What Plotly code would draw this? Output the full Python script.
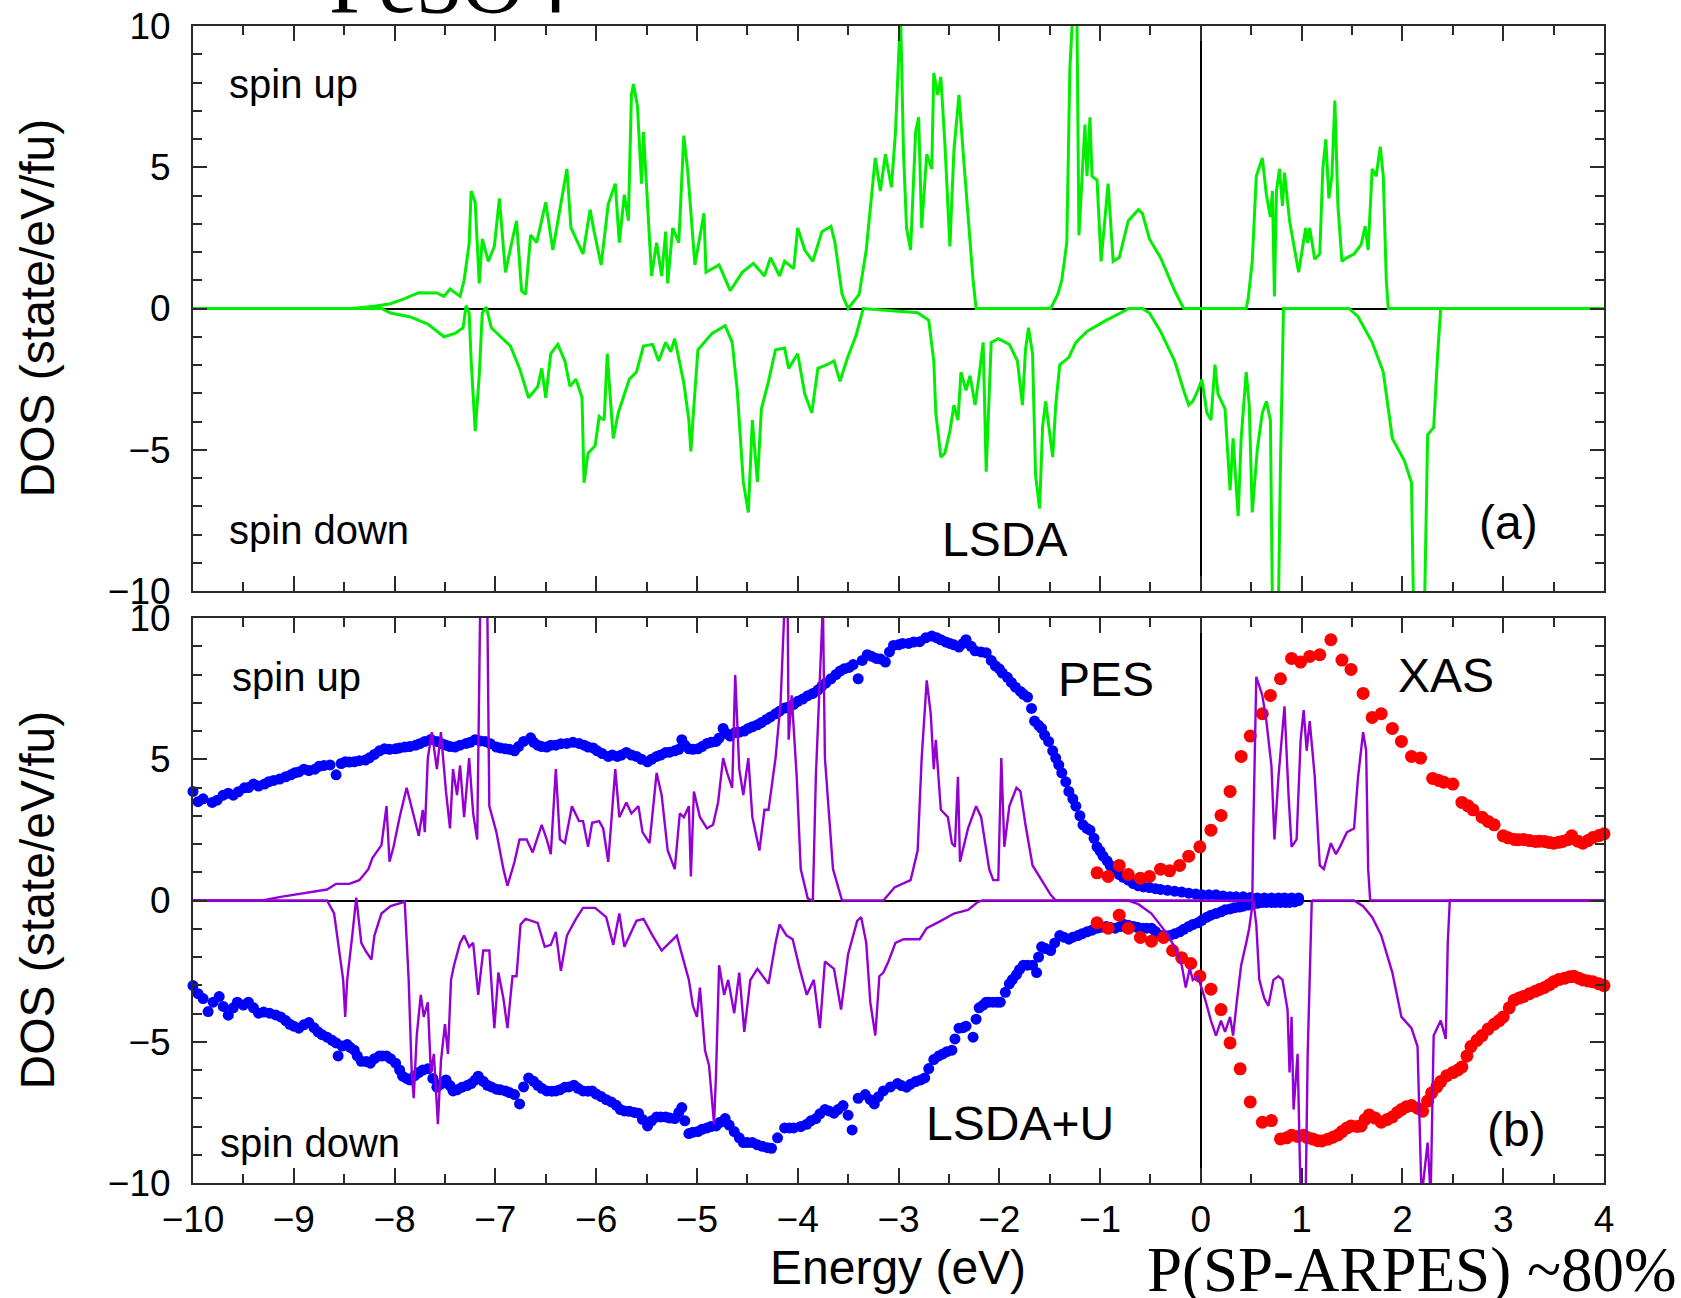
import plotly.graph_objects as go

# ---------------- data (energy eV, DOS state/eV/fu) ----------------
lsda_up = [(-10, 0), (-8.42, 0), (-8.2, 0.08), (-8.04, 0.17), (-7.9, 0.35), (-7.76, 0.56), (-7.58, 0.55),
           (-7.51, 0.43), (-7.45, 0.69), (-7.35, 0.43), (-7.31, 1.0), (-7.26, 2.3), (-7.24, 4.16), (-7.2, 3.76),
           (-7.16, 0.89), (-7.13, 2.46), (-7.07, 1.67), (-7.01, 2.2), (-6.96, 3.9), (-6.9, 1.28), (-6.83, 2.46),
           (-6.79, 3.1), (-6.74, 0.63), (-6.7, 0.5), (-6.65, 2.6), (-6.59, 2.33), (-6.5, 3.76), (-6.43, 2.07),
           (-6.36, 3.5), (-6.29, 4.94), (-6.25, 2.85), (-6.13, 1.93), (-6.06, 3.5), (-6.02, 2.72), (-5.95, 1.54),
           (-5.88, 3.7), (-5.81, 4.42), (-5.77, 2.33), (-5.72, 4.03), (-5.68, 3.11), (-5.65, 7.56), (-5.63, 7.95),
           (-5.59, 7.16), (-5.55, 4.42), (-5.53, 6.25), (-5.49, 3.9), (-5.45, 1.15), (-5.4, 2.33), (-5.35, 1.15),
           (-5.31, 2.72), (-5.29, 0.89), (-5.24, 2.85), (-5.18, 2.33), (-5.13, 6.12), (-5.09, 4.81), (-5.02, 1.54),
           (-4.98, 2.33), (-4.93, 3.37), (-4.91, 1.28), (-4.78, 1.54), (-4.67, 0.63), (-4.55, 1.28), (-4.44, 1.6),
           (-4.33, 1.15), (-4.27, 1.8), (-4.18, 1.15), (-4.13, 1.67), (-4.04, 1.41), (-4.0, 2.85), (-3.93, 2.07),
           (-3.85, 1.67), (-3.76, 2.72), (-3.67, 2.91), (-3.63, 2.33), (-3.56, 0.5), (-3.5, 0.0), (-3.39, 0.5),
           (-3.32, 2.07), (-3.27, 3.9), (-3.23, 5.33), (-3.18, 4.16), (-3.13, 5.46), (-3.07, 4.29), (-3.03, 6.25),
           (-2.98, 10.5), (-2.95, 5.5), (-2.92, 2.85), (-2.88, 2.07), (-2.83, 6.25), (-2.8, 6.77), (-2.77, 2.85),
           (-2.72, 5.46), (-2.67, 4.94), (-2.65, 8.34), (-2.61, 7.56), (-2.58, 8.2), (-2.54, 5.86), (-2.49, 2.2),
           (-2.45, 5.6), (-2.4, 7.56), (-2.36, 5.6), (-2.31, 3.37), (-2.26, 1.0), (-2.23, 0), (-1.49, 0),
           (-1.42, 0.5), (-1.38, 1.0), (-1.33, 2.33), (-1.3, 8.47), (-1.27, 10.5), (-1.23, 10.5), (-1.21, 2.59),
           (-1.18, 4.68), (-1.15, 6.51), (-1.13, 4.68), (-1.1, 6.77), (-1.08, 4.68), (-1.03, 4.55), (-0.99, 1.67),
           (-0.92, 4.42), (-0.87, 1.67), (-0.81, 1.8), (-0.72, 3.11), (-0.62, 3.5), (-0.58, 3.37), (-0.51, 2.46),
           (-0.4, 1.8), (-0.26, 0.63), (-0.17, 0), (0.45, 0), (0.47, 0.37), (0.51, 1.67), (0.55, 4.68), (0.61, 5.33),
           (0.65, 4.03), (0.69, 3.24), (0.71, 4.16), (0.73, 0.43), (0.75, 4.16), (0.78, 4.94), (0.81, 3.63),
           (0.83, 4.81), (0.88, 3.11), (0.97, 1.28), (1.04, 2.85), (1.06, 2.33), (1.08, 2.85), (1.13, 1.74),
           (1.18, 1.93), (1.21, 4.94), (1.24, 5.99), (1.27, 3.9), (1.3, 4.68), (1.33, 7.36), (1.36, 3.63),
           (1.4, 1.67), (1.45, 1.8), (1.52, 1.93), (1.59, 2.26), (1.63, 2.91), (1.66, 2.07), (1.7, 4.94),
           (1.74, 4.68), (1.78, 5.73), (1.81, 4.68), (1.84, 1.0), (1.86, 0), (4.0, 0)]

lsda_down = [(-10, 0), (-8.13, 0), (-8.04, -0.16), (-7.85, -0.29), (-7.67, -0.55), (-7.51, -1.0), (-7.4, -0.88),
             (-7.32, -0.68), (-7.29, 0.1), (-7.26, -0.16), (-7.24, -1.86), (-7.2, -4.34), (-7.16, -2.38),
             (-7.13, -0.16), (-7.09, 0.05), (-7.04, -0.68), (-6.85, -1.33), (-6.76, -2.12), (-6.67, -3.16),
             (-6.58, -2.77), (-6.54, -2.12), (-6.5, -3.16), (-6.45, -1.6), (-6.38, -1.27), (-6.31, -1.86),
             (-6.26, -2.75), (-6.2, -2.5), (-6.14, -3.16), (-6.12, -6.17), (-6.08, -5.12), (-6.01, -4.86),
             (-5.97, -3.82), (-5.92, -3.95), (-5.89, -1.6), (-5.86, -3.14), (-5.83, -4.6), (-5.78, -3.69),
             (-5.67, -2.5), (-5.6, -2.25), (-5.53, -1.33), (-5.44, -1.27), (-5.38, -1.86), (-5.31, -1.2),
             (-5.26, -1.53), (-5.22, -1.07), (-5.13, -2.64), (-5.08, -3.95), (-5.06, -5.06), (-5.04, -3.95),
             (-4.99, -1.46), (-4.85, -0.88), (-4.72, -0.61), (-4.65, -1.2), (-4.6, -2.9), (-4.54, -6.14),
             (-4.49, -7.22), (-4.45, -3.95), (-4.4, -6.14), (-4.36, -3.55), (-4.29, -2.58), (-4.22, -1.46),
             (-4.13, -1.4), (-4.09, -2.12), (-4.0, -1.6), (-3.93, -3.03), (-3.86, -3.69), (-3.8, -2.12),
             (-3.71, -1.99), (-3.64, -1.86), (-3.58, -2.58), (-3.51, -1.79), (-3.42, -0.94), (-3.35, 0.0),
             (-2.99, -0.09), (-2.81, -0.15), (-2.7, -0.42), (-2.65, -1.86), (-2.63, -3.69), (-2.58, -5.26),
             (-2.54, -5.12), (-2.49, -4.34), (-2.45, -3.42), (-2.41, -3.95), (-2.38, -2.25), (-2.33, -2.9),
             (-2.29, -2.38), (-2.24, -3.42), (-2.2, -2.38), (-2.16, -1.2), (-2.13, -5.78), (-2.08, -1.2),
             (-2.01, -1.07), (-1.9, -1.27), (-1.82, -1.86), (-1.77, -3.42), (-1.74, -1.46), (-1.71, -0.68),
             (-1.67, -1.6), (-1.64, -5.9), (-1.6, -7.08), (-1.57, -4.18), (-1.54, -3.29), (-1.5, -4.44),
             (-1.47, -5.26), (-1.44, -3.42), (-1.4, -1.99), (-1.31, -1.73), (-1.24, -1.2), (-1.13, -0.81),
             (-0.94, -0.42), (-0.76, -0.09), (-0.72, 0), (-0.58, 0), (-0.51, -0.16), (-0.4, -0.81), (-0.26, -1.86),
             (-0.17, -2.9), (-0.12, -3.42), (-0.08, -3.29), (-0.03, -2.9), (0.01, -2.51), (0.06, -3.69),
             (0.1, -3.95), (0.14, -1.99), (0.17, -3.03), (0.24, -3.55), (0.29, -6.43), (0.32, -4.6), (0.37, -7.35),
             (0.4, -4.6), (0.45, -2.25), (0.48, -3.42), (0.51, -7.22), (0.56, -4.99), (0.61, -3.69), (0.65, -3.29),
             (0.69, -3.95), (0.71, -10.5), (0.77, -10.5), (0.79, -5.52), (0.82, 0), (1.47, 0), (1.56, -0.29),
             (1.7, -1.2), (1.81, -2.25), (1.9, -4.6), (2.02, -5.39), (2.09, -6.17), (2.11, -10.5), (2.22, -10.5),
             (2.25, -4.47), (2.31, -4.21), (2.35, -1.6), (2.38, 0), (4.0, 0)]

lsdau_up = [(-10, 0), (-9.31, 0), (-9.13, 0.13), (-8.9, 0.26), (-8.67, 0.39), (-8.58, 0.59), (-8.45, 0.59),
            (-8.35, 0.72), (-8.26, 1.11), (-8.22, 1.5), (-8.13, 1.96), (-8.08, 3.34), (-8.05, 1.37), (-8.01, 1.9),
            (-7.95, 2.95), (-7.88, 3.99), (-7.81, 2.95), (-7.76, 2.29), (-7.72, 3.21), (-7.7, 2.42), (-7.67, 5.04),
            (-7.63, 5.96), (-7.58, 4.65), (-7.54, 5.96), (-7.49, 3.86), (-7.45, 2.55), (-7.42, 4.65), (-7.38, 3.73),
            (-7.35, 4.78), (-7.31, 2.95), (-7.26, 5.04), (-7.22, 3.08), (-7.18, 2.16), (-7.16, 7.66), (-7.15, 10.5),
            (-7.08, 10.5), (-7.06, 3.34), (-6.99, 2.42), (-6.92, 1.11), (-6.88, 0.52), (-6.81, 1.37), (-6.76, 2.16),
            (-6.69, 2.16), (-6.63, 1.7), (-6.54, 2.68), (-6.49, 2.16), (-6.45, 1.64), (-6.4, 4.65), (-6.36, 2.16),
            (-6.31, 2.03), (-6.24, 3.34), (-6.17, 2.81), (-6.13, 2.81), (-6.08, 1.9), (-6.04, 2.75), (-5.97, 2.81),
            (-5.93, 2.55), (-5.88, 1.37), (-5.84, 3.21), (-5.81, 4.65), (-5.77, 2.95), (-5.7, 3.47), (-5.65, 3.08),
            (-5.58, 3.34), (-5.54, 2.42), (-5.47, 2.03), (-5.4, 4.52), (-5.35, 3.73), (-5.29, 1.77), (-5.22, 1.11),
            (-5.17, 3.08), (-5.13, 2.95), (-5.08, 3.34), (-5.06, 0.85), (-5.03, 3.86), (-4.97, 2.95), (-4.9, 2.55),
            (-4.84, 2.68), (-4.79, 3.47), (-4.74, 5.04), (-4.7, 4.52), (-4.65, 3.99), (-4.62, 7.98), (-4.58, 4.65),
            (-4.54, 3.73), (-4.49, 5.04), (-4.45, 2.95), (-4.38, 1.77), (-4.33, 3.21), (-4.29, 3.21), (-4.22, 5.04),
            (-4.17, 7.0), (-4.13, 10.5), (-4.1, 10.5), (-4.09, 5.69), (-4.06, 7.26), (-4.01, 4.38), (-3.97, 1.11),
            (-3.9, 0.07), (-3.85, 0), (-3.82, 4.38), (-3.78, 8.31), (-3.75, 10.5), (-3.73, 5.04), (-3.68, 2.42),
            (-3.65, 1.11), (-3.56, 0), (-3.15, 0), (-3.04, 0.46), (-2.95, 0.6), (-2.88, 0.72), (-2.81, 1.77),
            (-2.77, 5.04), (-2.72, 7.79), (-2.68, 6.61), (-2.65, 4.65), (-2.63, 5.69), (-2.58, 3.21), (-2.51, 2.95),
            (-2.47, 2.03), (-2.44, 1.9), (-2.41, 4.38), (-2.39, 1.37), (-2.31, 2.55), (-2.23, 3.34), (-2.18, 2.95),
            (-2.1, 1.11), (-2.06, 0.72), (-2.01, 0.72), (-1.98, 5.04), (-1.95, 1.9), (-1.9, 3.34), (-1.83, 3.99),
            (-1.79, 3.86), (-1.74, 2.68), (-1.67, 1.24), (-1.58, 0.72), (-1.49, 0.2), (-1.44, 0), (0.51, 0),
            (0.52, 2.42), (0.55, 7.92), (0.61, 7.26), (0.65, 6.35), (0.7, 4.78), (0.73, 2.16), (0.77, 4.38),
            (0.81, 6.09), (0.83, 6.87), (0.87, 3.73), (0.9, 1.9), (0.95, 2.16), (0.99, 5.69), (1.02, 6.74),
            (1.05, 5.3), (1.08, 6.35), (1.13, 4.38), (1.18, 1.24), (1.22, 1.11), (1.29, 2.03), (1.34, 1.64),
            (1.38, 1.9), (1.45, 2.42), (1.52, 2.55), (1.56, 4.38), (1.61, 5.96), (1.64, 5.3), (1.66, 1.11),
            (1.68, 0), (4.0, 0)]

lsdau_down = [(-10, 0), (-8.67, 0), (-8.6, -0.46), (-8.56, -1.5), (-8.51, -2.81), (-8.49, -4.12), (-8.47, -2.81),
              (-8.42, -1.24), (-8.38, 0.1), (-8.33, -1.5), (-8.29, -1.77), (-8.23, -2.09), (-8.2, -1.24),
              (-8.13, -0.46), (-8.04, -0.2), (-7.92, -0.07), (-7.9, 0), (-7.86, -2.81), (-7.83, -6.09), (-7.81, -7.0),
              (-7.78, -4.78), (-7.74, -3.34), (-7.71, -4.12), (-7.67, -3.6), (-7.64, -6.09), (-7.61, -5.43),
              (-7.57, -7.92), (-7.54, -5.69), (-7.5, -4.38), (-7.47, -5.43), (-7.44, -2.81), (-7.41, -2.29),
              (-7.35, -1.5), (-7.31, -1.24), (-7.26, -1.64), (-7.22, -1.5), (-7.17, -3.34), (-7.12, -1.77),
              (-7.06, -1.77), (-7.01, -4.52), (-6.97, -2.55), (-6.92, -3.47), (-6.88, -4.52), (-6.83, -2.68),
              (-6.79, -2.68), (-6.75, -0.85), (-6.7, -0.65), (-6.58, -0.79), (-6.51, -1.64), (-6.45, -1.57),
              (-6.4, -1.11), (-6.35, -2.49), (-6.29, -1.24), (-6.2, -0.65), (-6.13, -0.26), (-6.01, -0.26),
              (-5.9, -0.59), (-5.83, -1.57), (-5.77, -0.46), (-5.72, -1.64), (-5.67, -1.24), (-5.6, -0.72),
              (-5.53, -0.65), (-5.44, -1.24), (-5.35, -1.77), (-5.26, -1.44), (-5.2, -1.24), (-5.15, -1.9),
              (-5.08, -2.81), (-5.04, -3.73), (-5.0, -4.12), (-4.97, -3.08), (-4.92, -5.3), (-4.88, -5.83),
              (-4.83, -7.92), (-4.81, -6.09), (-4.78, -2.29), (-4.73, -3.34), (-4.69, -2.81), (-4.63, -3.99),
              (-4.58, -2.55), (-4.53, -4.65), (-4.47, -2.81), (-4.4, -2.42), (-4.29, -2.95), (-4.22, -1.5),
              (-4.18, -0.85), (-4.11, -1.24), (-4.05, -1.37), (-3.98, -2.42), (-3.91, -3.34), (-3.84, -2.81),
              (-3.78, -4.52), (-3.73, -2.16), (-3.64, -2.42), (-3.57, -3.86), (-3.5, -1.9), (-3.41, -0.72),
              (-3.37, -0.59), (-3.32, -1.5), (-3.28, -3.6), (-3.23, -4.78), (-3.19, -2.68), (-3.15, -2.55),
              (-3.1, -2.16), (-3.03, -1.5), (-2.95, -1.37), (-2.79, -1.37), (-2.72, -0.98), (-2.58, -0.72),
              (-2.45, -0.46), (-2.31, -0.33), (-2.22, -0.07), (-2.17, 0), (-0.72, 0), (-0.62, -0.13), (-0.49, -0.46),
              (-0.35, -1.11), (-0.26, -1.64), (-0.19, -2.29), (-0.15, -3.08), (-0.11, -2.4), (-0.08, -2.81),
              (-0.03, -2.68), (0.04, -3.47), (0.1, -4.25), (0.15, -4.78), (0.2, -4.25), (0.24, -4.65), (0.29, -4.12),
              (0.32, -4.78), (0.36, -3.47), (0.4, -2.29), (0.45, -1.5), (0.48, -0.98), (0.51, -0.2), (0.52, 0),
              (0.55, -0.85), (0.58, -2.81), (0.63, -3.47), (0.67, -3.73), (0.72, -2.81), (0.77, -2.68),
              (0.81, -2.81), (0.86, -3.86), (0.88, -6.09), (0.9, -4.12), (0.92, -7.4), (0.96, -5.43), (0.99, -10.5),
              (1.04, -10.5), (1.06, -5.43), (1.1, -0.07), (1.11, 0), (1.52, 0), (1.61, -0.2), (1.7, -0.59),
              (1.79, -1.24), (1.9, -2.55), (1.99, -4.12), (2.09, -4.52), (2.15, -5.17), (2.19, -10.5), (2.25, -8.57),
              (2.28, -10.5), (2.31, -4.78), (2.38, -4.25), (2.43, -4.9), (2.45, -1.5), (2.47, 0), (4.0, 0)]

pes_up = [(-10.0, 3.86), (-9.9, 3.6), (-9.81, 3.47), (-9.7, 3.73), (-9.6, 3.73), (-9.49, 3.99), (-9.4, 4.12),
          (-9.29, 4.12), (-9.2, 4.25), (-9.08, 4.38), (-8.99, 4.52), (-8.9, 4.65), (-8.79, 4.65), (-8.7, 4.78),
          (-8.58, 4.45), (-8.49, 4.91), (-8.4, 4.91), (-8.29, 4.97), (-8.2, 5.17), (-8.1, 5.37), (-7.99, 5.37),
          (-7.9, 5.43), (-7.79, 5.5), (-7.7, 5.63), (-7.58, 5.63), (-7.49, 5.5), (-7.4, 5.43), (-7.29, 5.56),
          (-7.2, 5.69), (-7.1, 5.63), (-6.99, 5.43), (-6.9, 5.37), (-6.81, 5.3), (-6.72, 5.63), (-6.65, 5.76),
          (-6.58, 5.5), (-6.49, 5.43), (-6.4, 5.5), (-6.29, 5.56), (-6.17, 5.56), (-6.08, 5.43), (-5.99, 5.3),
          (-5.88, 5.1), (-5.79, 5.1), (-5.7, 5.24), (-5.6, 5.1), (-5.49, 4.91), (-5.4, 5.1), (-5.31, 5.24),
          (-5.22, 5.3), (-5.15, 5.69), (-5.08, 5.37), (-4.99, 5.37), (-4.9, 5.56), (-4.81, 5.63), (-4.74, 6.09),
          (-4.67, 5.82), (-4.58, 5.96), (-4.49, 6.09), (-4.4, 6.22), (-4.31, 6.41), (-4.22, 6.61), (-4.13, 6.81),
          (-4.04, 6.94), (-3.95, 7.13), (-3.85, 7.33), (-3.76, 7.59), (-3.67, 7.85), (-3.58, 8.12), (-3.49, 8.25),
          (-3.4, 7.85), (-3.31, 8.7), (-3.22, 8.57), (-3.13, 8.44), (-3.05, 9.03), (-2.96, 9.1), (-2.9, 9.1),
          (-2.79, 9.16), (-2.67, 9.36), (-2.58, 9.23), (-2.49, 9.1), (-2.4, 8.97), (-2.33, 9.23), (-2.24, 8.84),
          (-2.13, 8.77), (-2.04, 8.31), (-1.97, 8.05), (-1.88, 7.72), (-1.79, 7.4), (-1.72, 7.2), (-1.65, 6.35),
          (-1.58, 6.09), (-1.51, 5.63), (-1.44, 5.04), (-1.38, 4.52), (-1.31, 3.86), (-1.24, 3.34), (-1.17, 2.68),
          (-1.1, 2.49), (-1.03, 1.9), (-0.97, 1.57), (-0.9, 1.24), (-0.81, 0.92), (-0.72, 0.72), (-0.62, 0.52),
          (-0.51, 0.46), (-0.4, 0.39), (-0.26, 0.33), (-0.12, 0.26), (0.01, 0.2), (0.15, 0.2), (0.29, 0.13),
          (0.42, 0.13), (0.56, 0.09), (0.7, 0.09), (0.83, 0.09), (0.97, 0.09)]

# further PES spin-up points read between the ones above (the measured band is dense)
pes_up_more = [(-9.95, 3.5), (-9.76, 3.55), (-9.65, 3.8), (-9.55, 3.85), (-9.45, 4.0), (-9.35, 4.05), (-9.25, 4.2),
               (-9.14, 4.3), (-9.03, 4.45), (-8.95, 4.55), (-8.85, 4.6), (-8.75, 4.75), (-8.64, 4.8), (-8.53, 4.85),
               (-8.45, 4.9), (-8.35, 4.95), (-8.25, 5.05), (-8.15, 5.3), (-8.05, 5.35), (-7.95, 5.4), (-7.85, 5.45),
               (-7.75, 5.55), (-7.64, 5.7), (-7.53, 5.55), (-7.45, 5.45), (-7.35, 5.5), (-7.25, 5.6), (-7.15, 5.65),
               (-7.05, 5.55), (-6.95, 5.4), (-6.86, 5.35), (-6.77, 5.45), (-6.62, 5.6), (-6.54, 5.45), (-6.45, 5.5),
               (-6.35, 5.55), (-6.23, 5.6), (-6.12, 5.5), (-6.03, 5.4), (-5.94, 5.2), (-5.84, 5.15), (-5.75, 5.15),
               (-5.65, 5.15), (-5.55, 5.0), (-5.45, 5.0), (-5.36, 5.15), (-5.27, 5.25), (-5.18, 5.35), (-5.12, 5.5),
               (-5.04, 5.35), (-4.95, 5.45), (-4.86, 5.6), (-4.78, 5.75), (-4.7, 5.9), (-4.62, 5.95), (-4.53, 6.0),
               (-4.45, 6.15), (-4.36, 6.3), (-4.27, 6.5), (-4.18, 6.7), (-4.09, 6.85), (-4.0, 7.05), (-3.9, 7.25),
               (-3.8, 7.45), (-3.72, 7.7), (-3.62, 8.0), (-3.54, 8.2), (-3.45, 8.35), (-3.36, 8.5), (-3.27, 8.65),
               (-3.18, 8.55), (-3.09, 8.8), (-3.0, 9.05), (-2.85, 9.15), (-2.73, 9.3), (-2.62, 9.3), (-2.53, 9.15),
               (-2.45, 9.05), (-2.36, 9.1), (-2.28, 9.0), (-2.18, 8.8), (-2.08, 8.5), (-2.0, 8.2), (-1.92, 7.9),
               (-1.84, 7.55), (-1.76, 7.3), (-1.68, 6.8), (-1.61, 6.2), (-1.55, 5.85), (-1.47, 5.3), (-1.41, 4.8),
               (-1.34, 4.2), (-1.27, 3.6), (-1.2, 3.0), (-1.13, 2.55), (-1.06, 2.2), (-1.0, 1.75), (-0.93, 1.4),
               (-0.86, 1.08), (-0.77, 0.82), (-0.67, 0.6), (-0.57, 0.48), (-0.45, 0.42), (-0.33, 0.36), (-0.19, 0.3),
               (-0.05, 0.23), (0.08, 0.2), (0.22, 0.16), (0.35, 0.13), (0.49, 0.11), (0.63, 0.09), (0.77, 0.09),
               (0.9, 0.09)]

pes_down = [(-10.0, -3.01), (-9.9, -3.47), (-9.85, -3.93), (-9.74, -3.4), (-9.65, -4.06), (-9.56, -3.6),
            (-9.45, -3.6), (-9.35, -3.99), (-9.24, -3.99), (-9.13, -4.12), (-9.04, -4.38), (-8.95, -4.52),
            (-8.85, -4.32), (-8.76, -4.65), (-8.67, -4.84), (-8.58, -5.04), (-8.56, -5.5), (-8.47, -5.1),
            (-8.4, -5.3), (-8.33, -5.69), (-8.24, -5.76), (-8.15, -5.5), (-8.08, -5.5), (-7.99, -5.76),
            (-7.92, -6.22), (-7.85, -6.35), (-7.76, -6.09), (-7.67, -5.96), (-7.58, -6.61), (-7.49, -6.35),
            (-7.42, -6.74), (-7.33, -6.61), (-7.24, -6.48), (-7.17, -6.22), (-7.08, -6.54), (-6.99, -6.68),
            (-6.9, -6.74), (-6.81, -6.87), (-6.76, -7.2), (-6.67, -6.28), (-6.58, -6.54), (-6.49, -6.74),
            (-6.4, -6.74), (-6.31, -6.61), (-6.22, -6.54), (-6.13, -6.74), (-6.04, -6.74), (-5.95, -6.94),
            (-5.85, -7.13), (-5.76, -7.4), (-5.67, -7.46), (-5.58, -7.53), (-5.49, -7.98), (-5.4, -7.66),
            (-5.31, -7.66), (-5.22, -7.72), (-5.15, -7.33), (-5.08, -8.25), (-4.99, -8.18), (-4.9, -8.05),
            (-4.81, -7.98), (-4.72, -7.72), (-4.63, -8.18), (-4.54, -8.57), (-4.45, -8.57), (-4.35, -8.7),
            (-4.26, -8.77), (-4.13, -8.05), (-4.04, -8.05), (-3.91, -7.92), (-3.82, -7.72), (-3.73, -7.4),
            (-3.64, -7.53), (-3.55, -7.26), (-3.46, -8.12), (-3.33, -6.87), (-3.24, -7.2), (-3.15, -6.74),
            (-3.01, -6.48), (-2.92, -6.61), (-2.83, -6.41), (-2.74, -6.28), (-2.65, -5.63), (-2.56, -5.43),
            (-2.47, -5.3), (-2.4, -4.52), (-2.33, -4.45), (-2.26, -4.84), (-2.2, -3.8), (-2.13, -3.6),
            (-2.06, -3.6), (-1.99, -3.6), (-1.9, -2.95), (-1.83, -2.62), (-1.76, -2.29), (-1.67, -2.29),
            (-1.63, -2.55), (-1.58, -1.64), (-1.49, -1.77), (-1.4, -1.24), (-1.31, -1.37), (-1.22, -1.24),
            (-1.13, -1.11), (-1.03, -0.98), (-0.94, -0.92), (-0.85, -0.98), (-0.76, -0.85), (-0.67, -0.92),
            (-0.58, -0.98), (-0.49, -0.98), (-0.4, -1.24), (-0.31, -1.24), (-0.21, -1.11), (-0.12, -0.92),
            (-0.03, -0.79), (0.06, -0.59), (0.15, -0.46), (0.24, -0.33), (0.33, -0.26), (0.42, -0.2),
            (0.51, -0.13), (0.61, -0.07), (0.7, -0.07), (0.79, -0.07), (0.88, -0.07), (0.97, 0.0)]

pes_down_more = [(-9.95, -3.3), (-9.8, -3.6), (-9.7, -3.75), (-9.6, -3.8), (-9.5, -3.7), (-9.4, -3.8),
                 (-9.3, -3.95), (-9.18, -4.05), (-9.08, -4.25), (-9.0, -4.45), (-8.9, -4.4), (-8.8, -4.5),
                 (-8.72, -4.75), (-8.62, -4.95), (-8.52, -5.15), (-8.44, -5.2), (-8.37, -5.5), (-8.28, -5.7),
                 (-8.2, -5.6), (-8.12, -5.5), (-8.04, -5.6), (-7.95, -6.0), (-7.88, -6.3), (-7.8, -6.2),
                 (-7.72, -6.0), (-7.62, -6.3), (-7.54, -6.5), (-7.45, -6.55), (-7.38, -6.7), (-7.28, -6.55),
                 (-7.2, -6.35), (-7.12, -6.4), (-7.04, -6.6), (-6.95, -6.7), (-6.86, -6.8), (-6.72, -6.6),
                 (-6.62, -6.4), (-6.54, -6.65), (-6.44, -6.75), (-6.36, -6.7), (-6.27, -6.6), (-6.18, -6.65),
                 (-6.08, -6.75), (-6.0, -6.85), (-5.9, -7.05), (-5.8, -7.25), (-5.72, -7.45), (-5.62, -7.5),
                 (-5.54, -7.75), (-5.45, -7.8), (-5.36, -7.66), (-5.27, -7.7), (-5.18, -7.5), (-5.12, -7.8),
                 (-5.04, -8.2), (-4.95, -8.1), (-4.86, -8.0), (-4.77, -7.85), (-4.68, -7.95), (-4.58, -8.4),
                 (-4.5, -8.57), (-4.4, -8.65), (-4.3, -8.75), (-4.2, -8.4), (-4.08, -8.05), (-3.97, -8.0),
                 (-3.87, -7.8), (-3.78, -7.55), (-3.69, -7.45), (-3.6, -7.4), (-3.5, -7.6), (-3.4, -7.0),
                 (-3.28, -7.05), (-3.2, -6.95), (-3.08, -6.6), (-2.97, -6.55), (-2.88, -6.5), (-2.78, -6.35),
                 (-2.7, -5.95), (-2.6, -5.5), (-2.52, -5.35), (-2.44, -4.9), (-2.36, -4.5), (-2.23, -4.2),
                 (-2.16, -3.7), (-2.1, -3.6), (-2.02, -3.6), (-1.94, -3.25), (-1.87, -2.8), (-1.8, -2.45),
                 (-1.72, -2.29), (-1.61, -2.0), (-1.54, -1.7), (-1.45, -1.5), (-1.36, -1.3), (-1.27, -1.3),
                 (-1.18, -1.18), (-1.08, -1.05), (-0.99, -0.95), (-0.9, -0.95), (-0.8, -0.92), (-0.72, -0.88),
                 (-0.63, -0.95), (-0.54, -0.98), (-0.45, -1.1), (-0.36, -1.24), (-0.26, -1.18), (-0.17, -1.02),
                 (-0.08, -0.85), (0.01, -0.7), (0.1, -0.52), (0.2, -0.4), (0.29, -0.3), (0.38, -0.23),
                 (0.47, -0.16), (0.56, -0.1), (0.65, -0.07), (0.74, -0.07), (0.84, -0.07), (0.93, -0.05)]

xas_up = [(-1.03, 0.98), (-0.92, 0.85), (-0.81, 1.24), (-0.72, 0.92), (-0.6, 0.79), (-0.51, 0.85), (-0.4, 1.11),
          (-0.31, 1.05), (-0.21, 1.24), (-0.12, 1.57), (-0.01, 1.9), (0.1, 2.49), (0.2, 3.01), (0.29, 3.86),
          (0.4, 5.1), (0.49, 5.82), (0.61, 6.61), (0.69, 7.26), (0.79, 7.85), (0.9, 8.57), (0.99, 8.44),
          (1.08, 8.64), (1.18, 8.7), (1.29, 9.23), (1.4, 8.51), (1.49, 8.18), (1.61, 7.33), (1.7, 6.48),
          (1.79, 6.61), (1.9, 6.09), (1.99, 5.63), (2.09, 5.1), (2.18, 5.04), (2.3, 4.32), (2.36, 4.25),
          (2.41, 4.19), (2.5, 4.12), (2.59, 3.47), (2.65, 3.35), (2.7, 3.21), (2.79, 2.95), (2.85, 2.8),
          (2.91, 2.68), (3.0, 2.29), (3.05, 2.22), (3.11, 2.16), (3.15, 2.15), (3.2, 2.16), (3.26, 2.12),
          (3.32, 2.09), (3.36, 2.1), (3.41, 2.09), (3.46, 2.05), (3.5, 2.03), (3.55, 2.06), (3.59, 2.09),
          (3.64, 2.15), (3.68, 2.29), (3.74, 2.1), (3.79, 2.03), (3.84, 2.12), (3.89, 2.23), (3.95, 2.3),
          (4.0, 2.36)]

xas_down = [(-1.03, -0.79), (-0.92, -0.98), (-0.81, -0.52), (-0.72, -0.98), (-0.6, -1.31), (-0.49, -1.44),
            (-0.37, -1.31), (-0.28, -1.77), (-0.19, -2.03), (-0.1, -2.23), (-0.01, -2.68), (0.1, -3.14),
            (0.2, -3.86), (0.29, -5.04), (0.39, -5.96), (0.49, -7.13), (0.61, -7.85), (0.7, -7.79),
            (0.79, -8.44), (0.85, -8.4), (0.9, -8.31), (0.96, -8.35), (1.02, -8.31), (1.06, -8.4), (1.11, -8.44),
            (1.16, -8.5), (1.2, -8.51), (1.26, -8.45), (1.31, -8.38), (1.36, -8.3), (1.4, -8.18), (1.45, -8.05),
            (1.49, -7.98), (1.55, -8.0), (1.59, -7.98), (1.63, -7.75), (1.67, -7.59), (1.73, -7.7),
            (1.79, -7.85), (1.85, -7.75), (1.9, -7.66), (1.95, -7.5), (1.99, -7.4), (2.04, -7.3), (2.09, -7.26),
            (2.15, -7.35), (2.2, -7.46), (2.25, -7.1), (2.29, -6.81), (2.34, -6.6), (2.38, -6.41), (2.44, -6.2),
            (2.5, -6.09), (2.55, -6.0), (2.59, -5.89), (2.64, -5.5), (2.68, -5.17), (2.74, -4.95), (2.79, -4.78),
            (2.85, -4.55), (2.91, -4.38), (2.96, -4.25), (3.0, -4.12), (3.06, -3.8), (3.11, -3.53), (3.16, -3.45),
            (3.2, -3.4), (3.26, -3.3), (3.32, -3.21), (3.36, -3.15), (3.41, -3.08), (3.46, -2.98), (3.5, -2.88),
            (3.55, -2.8), (3.61, -2.75), (3.66, -2.7), (3.7, -2.68), (3.75, -2.75), (3.79, -2.81), (3.84, -2.85),
            (3.89, -2.88), (3.95, -2.95), (4.0, -3.01)]

x_ticks = [-10, -9, -8, -7, -6, -5, -4, -3, -2, -1, 0, 1, 2, 3, 4]
y_ticks = [-10, -5, 0, 5, 10]


def xy(pairs):
    return [p[0] for p in pairs], [p[1] for p in pairs]


GREEN = "#00ee00"
PURPLE = "#9400d3"
BLUE = "#0000ff"
RED = "#ff0000"

fig = go.Figure()

for pairs in (lsda_up, lsda_down):
    ex, ey = xy(pairs)
    fig.add_trace(go.Scatter(x=ex, y=ey, mode="lines", line=dict(color=GREEN, width=3),
                             xaxis="x", yaxis="y"))

for pairs in (pes_up + pes_up_more, pes_down + pes_down_more):
    ex, ey = xy(pairs)
    fig.add_trace(go.Scatter(x=ex, y=ey, mode="markers", marker=dict(color=BLUE, size=11, line=dict(width=0)),
                             xaxis="x2", yaxis="y2", cliponaxis=False))
for pairs in (xas_up, xas_down):
    ex, ey = xy(pairs)
    fig.add_trace(go.Scatter(x=ex, y=ey, mode="markers", marker=dict(color=RED, size=13, line=dict(width=0)),
                             xaxis="x2", yaxis="y2", cliponaxis=False))
for pairs in (lsdau_up, lsdau_down):
    ex, ey = xy(pairs)
    fig.add_trace(go.Scatter(x=ex, y=ey, mode="lines", line=dict(color=PURPLE, width=2.4),
                             xaxis="x2", yaxis="y2"))

SANS = "Liberation Sans, Arial, Helvetica, sans-serif"
SERIF = "Liberation Serif, Times New Roman, serif"
AX = "#2a2a2a"

xdom = [193 / 1681, 1604 / 1681]
top_dom = [(1298 - 591) / 1298, (1298 - 26) / 1298]
bot_dom = [(1298 - 1183) / 1298, (1298 - 618) / 1298]

common_x = dict(range=[-10, 4], domain=xdom, showgrid=False, showline=True, linecolor=AX, linewidth=2,
                mirror="allticks", ticks="inside", ticklen=15, tickwidth=2, tickcolor=AX,
                tickvals=x_ticks, ticktext=[str(v).replace("-", "\u2212") for v in x_ticks],
                zeroline=True, zerolinecolor="black", zerolinewidth=1.5, automargin=False,
                minor=dict(ticks="inside", ticklen=9, tickwidth=2, tickcolor=AX, dtick=0.5, showgrid=False),
                tickfont=dict(family=SANS, size=37, color="black"), fixedrange=True)
common_y = dict(range=[-10, 10], showgrid=False, showline=True, linecolor=AX, linewidth=2,
                mirror="allticks", ticks="inside", ticklen=14, tickwidth=2, tickcolor=AX,
                tickvals=y_ticks, ticktext=[str(v).replace("-", "\u2212") for v in y_ticks],
                zeroline=True, zerolinecolor="black", zerolinewidth=1.5, automargin=False,
                minor=dict(ticks="inside", ticklen=9, tickwidth=2, tickcolor=AX, dtick=1, showgrid=False),
                tickfont=dict(family=SANS, size=37, color="black"), ticklabelstandoff=13, fixedrange=True)

fig.update_layout(
    width=1681, height=1298, margin=dict(l=0, r=0, t=0, b=0, pad=0, autoexpand=False),
    paper_bgcolor="white", plot_bgcolor="white", showlegend=False,
    xaxis=dict(common_x, anchor="y", showticklabels=False),
    yaxis=dict(common_y, domain=top_dom, anchor="x"),
    xaxis2=dict(common_x, anchor="y2", showticklabels=True, ticklabelstandoff=3),
    yaxis2=dict(common_y, domain=bot_dom, anchor="x2"),
)


def lab(text, x, y, size, ref="", anchor="left"):
    return dict(text=text, x=x, y=y, xref="x" + ref, yref="y" + ref, xanchor=anchor, yanchor="middle",
                showarrow=False, font=dict(family=SANS, size=size, color="black"))


annotations = [
    lab("spin up", -9.66, 7.95, 40),
    lab("spin down", -9.66, -7.84, 40),
    lab("LSDA", -2.59, -8.16, 48),
    lab("(a)", 2.74, -7.59, 48),
    lab("spin up", -9.63, 7.91, 40, "2"),
    lab("spin down", -9.75, -8.58, 40, "2"),
    lab("PES", -1.44, 7.84, 48, "2"),
    lab("XAS", 1.94, 7.95, 48, "2"),
    lab("LSDA+U", -2.75, -7.88, 48, "2"),
    lab("(b)", 2.82, -8.09, 48, "2"),
    dict(text="DOS (state/eV/fu)", x=37 / 1681, y=(1298 - 308.5) / 1298, xref="paper", yref="paper",
         textangle=-90, showarrow=False, xanchor="center", yanchor="middle",
         font=dict(family=SANS, size=48, color="black")),
    dict(text="DOS (state/eV/fu)", x=37 / 1681, y=(1298 - 900.5) / 1298, xref="paper", yref="paper",
         textangle=-90, showarrow=False, xanchor="center", yanchor="middle",
         font=dict(family=SANS, size=48, color="black")),
    dict(text="Energy (eV)", x=898.5 / 1681, y=(1298 - 1267) / 1298, xref="paper", yref="paper",
         showarrow=False, xanchor="center", yanchor="middle",
         font=dict(family=SANS, size=48, color="black")),
    dict(text="Fe3O4", x=327 / 1681, y=(1298 - 33) / 1298, xref="paper", yref="paper",
         showarrow=False, xanchor="left", yanchor="bottom",
         font=dict(family=SERIF, size=88, color="black")),
    dict(text="P(SP-ARPES) ~80%", x=1678 / 1681, y=(1298 - 1233) / 1298, xref="paper", yref="paper",
         showarrow=False, xanchor="right", yanchor="top",
         font=dict(family=SERIF, size=63, color="black")),
]
fig.update_layout(annotations=annotations)

fig.write_html("out.html")
